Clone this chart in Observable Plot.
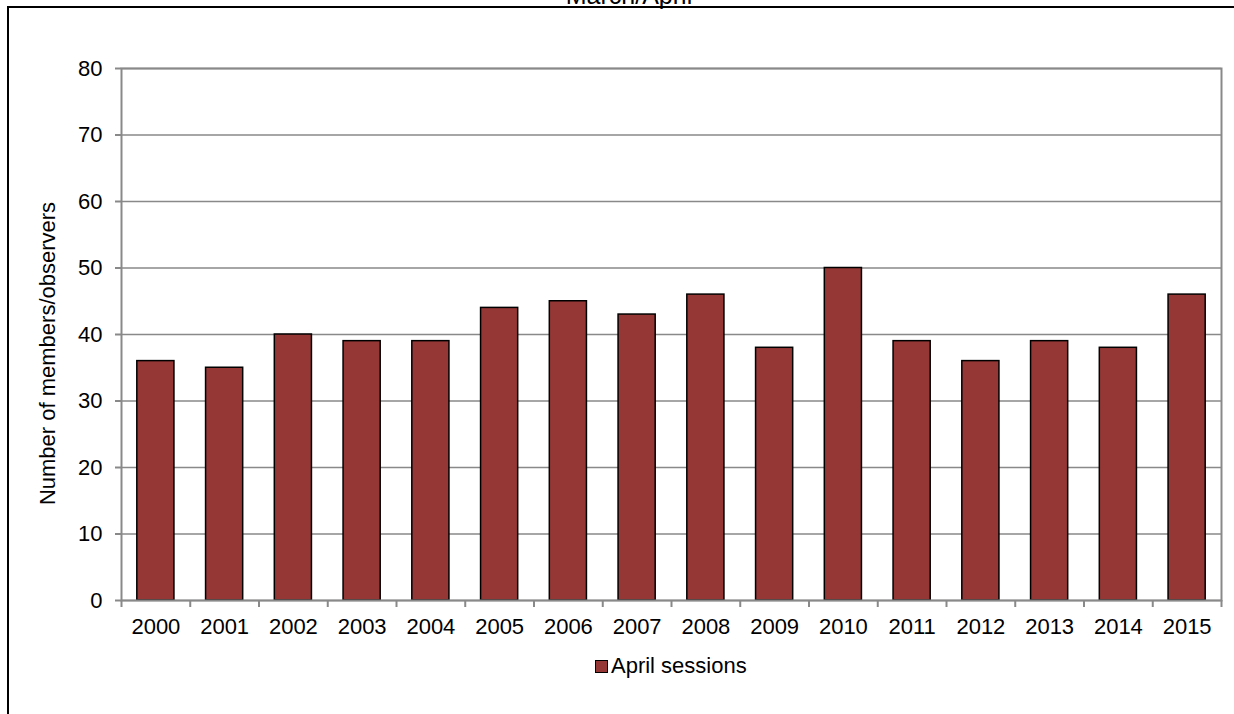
<!DOCTYPE html>
<html>
<head>
<meta charset="utf-8">
<script src="https://cdn.jsdelivr.net/npm/d3@7"></script>
<script src="https://cdn.jsdelivr.net/npm/@observablehq/plot@0.6"></script>
<style>
  html, body { margin: 0; padding: 0; background: #fff; }
  #wrap { position: relative; width: 1234px; height: 714px; overflow: hidden; font-family: "Liberation Sans", Arial, sans-serif; }
  #border { position: absolute; left: 7px; top: 6px; width: 1240px; height: 720px; border-left: 2px solid #000; border-top: 2px solid #000; box-sizing: border-box; }
  #title { position: absolute; left: 0; width: 1258px; text-align: center; top: -19px; font-size: 25px; color: #000; }
  #legend { position: absolute; top: 653px; left: 595px; font-size: 22px; color: #000; display: flex; align-items: center; }
  #legend .sw { width: 11px; height: 11px; background: #953735; border: 1.5px solid #000; margin-right: 3px; }
  #chart { position: absolute; left: 0; top: 0; }
</style>
</head>
<body>
<div id="wrap">
  <div id="title">March/April</div>
  <div id="border"></div>
  <div id="chart"></div>
  <div id="legend"><div class="sw"></div><span>April sessions</span></div>
</div>
<script>
const years = ["2000","2001","2002","2003","2004","2005","2006","2007","2008","2009","2010","2011","2012","2013","2014","2015"];
const aprilSessions = [36,35,40,39,39,44,45,43,46,38,50,39,36,39,38,46];
const yTicks = [0,10,20,30,40,50,60,70,80];
const seriesName = "April sessions";
const yLabel = "Number of members/observers";

const data = years.map((y, i) => ({year: y, value: aprilSessions[i]}));

const W = 1234, H = 714;
const mL = 121, mR = 13, mT = 68, mB = 114;
const step = (W - mL - mR) / years.length;
const grey = "#898989";

const plot = Plot.plot({
  width: W,
  height: H,
  marginLeft: mL,
  marginRight: mR,
  marginTop: mT,
  marginBottom: mB,
  style: {fontFamily: "Liberation Sans, Arial, sans-serif", fontSize: "22px", color: "#000", background: "transparent"},
  x: {domain: years, paddingInner: 0.46, paddingOuter: 0.23, round: false, label: null},
  y: {domain: [0, 80], label: null},
  marks: [
    Plot.gridY(yTicks, {stroke: grey, strokeOpacity: 1, strokeWidth: 1.5}),
    Plot.barY(data, {x: "year", y: "value", fill: "#953735", stroke: "#000", strokeWidth: 1.5}),
    Plot.frame({stroke: grey, strokeWidth: 2}),
    Plot.ruleX(years, {x: d => d, y1: 0, y2: 0, dx: -step / 2, insetBottom: -7, stroke: grey, strokeWidth: 2}),
    Plot.ruleX(years.slice(-1), {x: d => d, y1: 0, y2: 0, dx: step / 2, insetBottom: -7, stroke: grey, strokeWidth: 2}),
    Plot.axisX({tickSize: 0, tickPadding: 18, fontSize: 22, label: null}),
    Plot.axisY(yTicks, {tickSize: 6, tickPadding: 13, stroke: grey, strokeWidth: 2, fontSize: 22, label: null}),
    Plot.text([yLabel], {frameAnchor: "left", textAnchor: "middle", rotate: -90, dx: -74, dy: 19, fontSize: 22, fill: "#000", text: d => d})
  ]
});
document.getElementById("chart").appendChild(plot);
</script>
</body>
</html>
